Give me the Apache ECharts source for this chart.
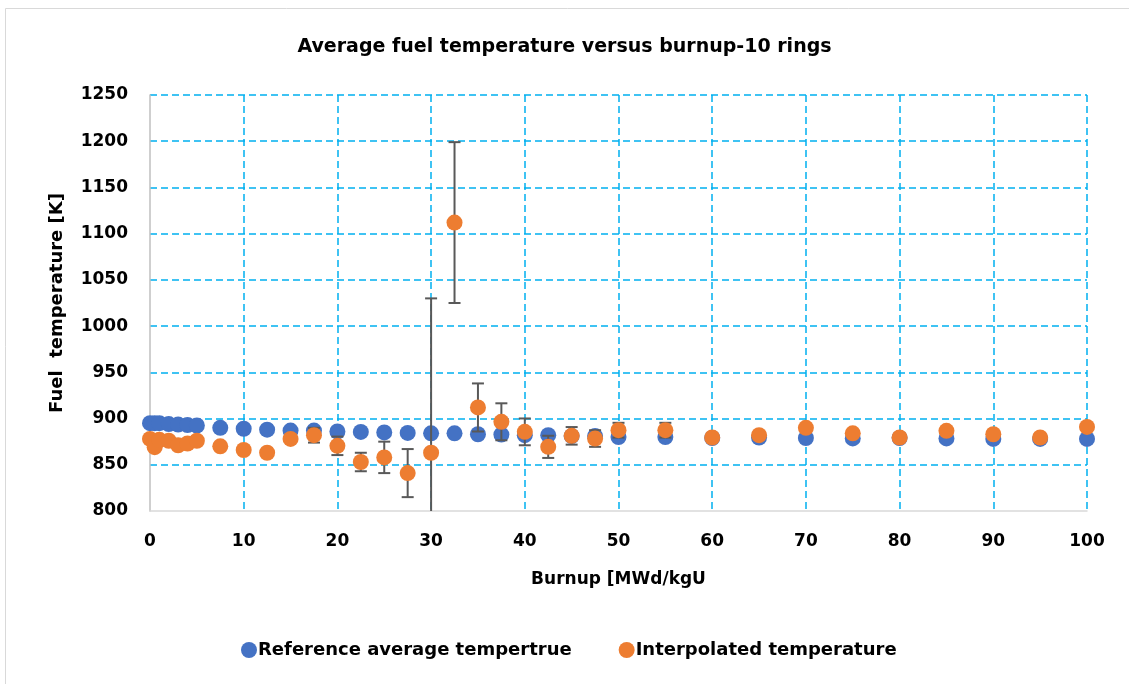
<!DOCTYPE html>
<html>
<head>
<meta charset="utf-8">
<title>Average fuel temperature versus burnup-10 rings</title>
<script src="https://cdn.jsdelivr.net/npm/echarts@6/dist/echarts.min.js"></script>
<style>
    html, body { margin: 0; padding: 0; background: #fff; }
    #chart { width: 1129px; height: 684px; }
</style>
</head>
<body>
<div id="chart"></div>
<script>
    // burnup points [MWd/kgU]
    var burnup = [0, 0.5, 1, 2, 3, 4, 5, 7.5, 10, 12.5, 15, 17.5, 20, 22.5, 25, 27.5, 30, 32.5, 35, 37.5,
        40, 42.5, 45, 47.5, 50, 55, 60, 65, 70, 75, 80, 85, 90, 95, 100];
    // reference average temperature [K]
    var refTemp = [895, 895, 895, 894, 893.5, 893, 892.5, 890, 889, 888, 887, 887, 886, 885.5, 885, 884.5, 884, 884, 883, 882.7,
        882, 882, 881, 881, 880, 880, 879, 879.5, 879, 878.5, 879, 878.5, 878, 878, 878];
    // interpolated temperature [K]
    var interpTemp = [878, 869, 877, 876, 871, 873, 876, 870, 866, 863, 878, 882, 870.5, 853, 858, 841, 863, 1112, 912, 896.5,
        885.6, 869.4, 881.3, 878.4, 887.4, 887.4, 879.5, 882, 890, 884, 879.5, 886.7, 883, 879.5, 891];
    // error bar (+/-) on interpolated temperature [K]
    var interpErr = [0, 0, 0, 0, 0, 0, 0, 0, 0, 0, 0, 8, 10, 10, 17, 26, 167, 87, 26, 20,
        14.5, 12, 9.5, 9, 8, 8, 0, 0, 0, 0, 0, 0, 0, 0, 0];

    var yTicks = { min: 800, max: 1250, step: 50 };
    var xTicks = { min: 0, max: 100, step: 10 };

    var refData = burnup.map(function (b, i) { return [b, refTemp[i]]; });
    var interpData = burnup.map(function (b, i) { return [b, interpTemp[i]]; });
    var errData = [];
    burnup.forEach(function (b, i) {
        if (interpErr[i] > 0) errData.push([b, interpTemp[i] - interpErr[i], interpTemp[i] + interpErr[i]]);
    });

    var font = 'DejaVu Sans';
    var blue = '#4472c4', orange = '#ed7d31';
    var gridLine = { show: true, showMinLine: false, lineStyle: { color: '#00b0f0', width: 1.5, type: [7, 4] } };

    var myChart = echarts.init(document.getElementById('chart'));
    myChart.setOption({
        animation: false,
        title: {
            text: 'Average fuel temperature versus burnup-10 rings',
            left: 'center',
            top: 33,
            textStyle: { fontFamily: font, fontSize: 19, fontWeight: 'bold', color: '#000' }
        },
        graphic: [{
            type: 'rect',
            shape: { x: 5.5, y: 8.5, width: 1200, height: 800 },
            style: { fill: 'none', stroke: '#d9d9d9', lineWidth: 1 },
            silent: true
        }],
        legend: {
            bottom: 20,
            left: 236,
            itemGap: 47,
            itemWidth: 16,
            itemHeight: 16,
            icon: 'circle',
            textStyle: { fontFamily: font, fontSize: 18, fontWeight: 'bold', color: '#000', padding: [0, 0, 0, -4] },
            data: ['Reference average tempertrue', 'Interpolated temperature']
        },
        grid: { left: 150, right: 42, top: 95, bottom: 173 },
        xAxis: {
            type: 'value',
            min: xTicks.min,
            max: xTicks.max,
            interval: xTicks.step,
            name: 'Burnup [MWd/kgU',
            nameLocation: 'middle',
            nameGap: 60,
            nameTextStyle: { fontFamily: font, fontSize: 17, fontWeight: 'bold', color: '#000' },
            axisLine: { show: true, lineStyle: { color: '#d9d9d9', width: 1.5 } },
            axisTick: { show: false },
            axisLabel: { fontFamily: font, fontSize: 17, fontWeight: 'bold', color: '#000', margin: 22 },
            splitLine: gridLine
        },
        yAxis: {
            type: 'value',
            min: yTicks.min,
            max: yTicks.max,
            interval: yTicks.step,
            name: 'Fuel  temperature [K]',
            nameLocation: 'middle',
            nameGap: 84,
            nameTextStyle: { fontFamily: font, fontSize: 18, fontWeight: 'bold', color: '#000' },
            axisLine: { show: true, lineStyle: { color: '#bfbfbf', width: 1.5 } },
            axisTick: { show: false },
            axisLabel: {
                fontFamily: font, fontSize: 17, fontWeight: 'bold', color: '#000', margin: 22,
                formatter: function (v) { return String(v); }
            },
            splitLine: gridLine
        },
        series: [{
            name: 'Reference average tempertrue',
            type: 'scatter',
            symbolSize: 16,
            z: 2,
            itemStyle: { color: blue, opacity: 1 },
            data: refData
        }, {
            name: 'Error bars',
            type: 'custom',
            z: 3,
            clip: true,
            data: errData,
            renderItem: function (params, api) {
                var x = api.value(0);
                var lo = api.value(1);
                var hi = api.value(2);
                var capLo = lo >= yTicks.min;
                var top = api.coord([x, Math.min(hi, yTicks.max)]);
                var bot = api.coord([x, Math.max(lo, yTicks.min)]);
                var half = 6;
                var style = { stroke: '#595959', lineWidth: 2 };
                var kids = [
                    { type: 'line', shape: { x1: top[0], y1: top[1], x2: bot[0], y2: bot[1] }, style: style },
                    { type: 'line', shape: { x1: top[0] - half, y1: top[1], x2: top[0] + half, y2: top[1] }, style: style }
                ];
                if (capLo) {
                    kids.push({ type: 'line', shape: { x1: bot[0] - half, y1: bot[1], x2: bot[0] + half, y2: bot[1] }, style: style });
                }
                return { type: 'group', children: kids };
            }
        }, {
            name: 'Interpolated temperature',
            type: 'scatter',
            symbolSize: 16,
            z: 4,
            itemStyle: { color: orange, opacity: 1 },
            data: interpData
        }]
    });
    window.addEventListener('resize', function () { myChart.resize(); });
</script>
</body>
</html>
